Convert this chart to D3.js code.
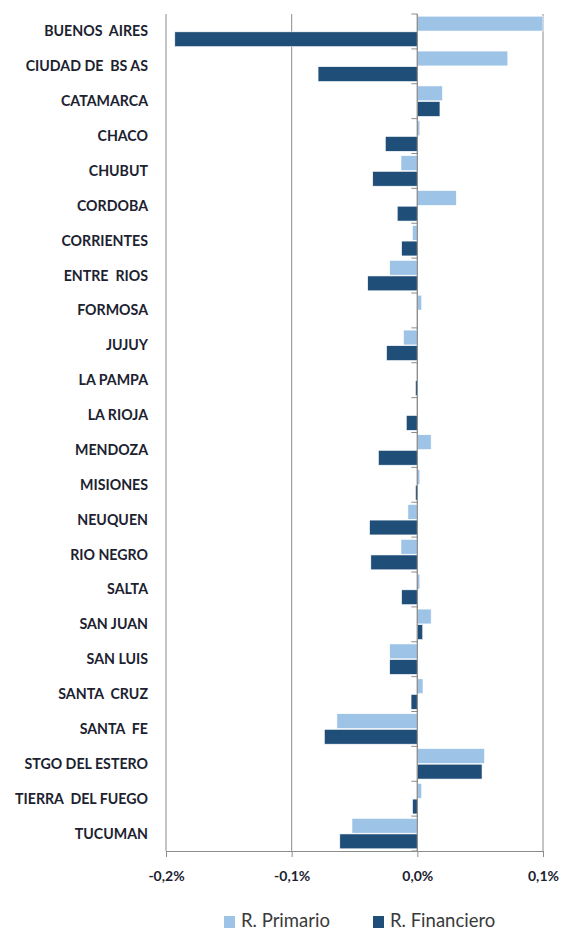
<!DOCTYPE html>
<html>
<head>
<meta charset="utf-8">
<script src="https://cdn.jsdelivr.net/npm/d3@7"></script>
<style>
  html, body { margin: 0; padding: 0; background: #fff; }
  svg { display: block; }
  text { font-family: Lato, "Open Sans", sans-serif; }
</style>
</head>
<body>
<svg id="chart" width="573" height="932"></svg>
<script>
const categories = ["BUENOS  AIRES","CIUDAD DE  BS AS","CATAMARCA","CHACO","CHUBUT","CORDOBA","CORRIENTES","ENTRE  RIOS","FORMOSA","JUJUY","LA PAMPA","LA RIOJA","MENDOZA","MISIONES","NEUQUEN","RIO NEGRO","SALTA","SAN JUAN","SAN LUIS","SANTA  CRUZ","SANTA  FE","STGO DEL ESTERO","TIERRA  DEL FUEGO","TUCUMAN"];
const primario   = [0.100, 0.072, 0.020, 0.002, -0.013, 0.031, -0.004, -0.022, 0.0035, -0.011, 0.000, 0.000, 0.011, 0.002, -0.0075, -0.013, 0.002, 0.011, -0.022, 0.0045, -0.064, 0.0535, 0.0035, -0.052];
const financiero = [-0.193, -0.079, 0.018, -0.0255, -0.0355, -0.016, -0.0125, -0.0395, 0.000, -0.0245, -0.0015, -0.0088, -0.031, -0.0015, -0.038, -0.037, -0.0125, 0.0043, -0.022, -0.005, -0.074, 0.0515, -0.0038, -0.0617];
const tickValues = [-0.2, -0.1, 0.0, 0.1];
const tickLabels = ["-0,2%", "-0,1%", "0,0%", "0,1%"];
const seriesNames = ["R. Primario", "R. Financiero"];
const colors = ["#9dc3e6", "#1f4e79"];

const svg = d3.select("#chart");
const x = d3.scaleLinear().domain([-0.2, 0.1]).range([166, 543]);
const y = d3.scaleBand().domain(categories).range([14, 851]).padding(0);
const inner = d3.scaleBand().domain([0, 1]).range([0, y.bandwidth()]).paddingInner(0.05).paddingOuter(0.14);

const grid = "#8c8c8c";
const textColor = "#1c2230";
// vertical gridlines
svg.append("g").selectAll("line").data(tickValues).join("line")
  .attr("x1", d => x(d)).attr("x2", d => x(d))
  .attr("y1", 14).attr("y2", 851)
  .attr("stroke", grid).attr("stroke-width", 1);

// bars
const data = [];
categories.forEach((c, i) => {
  data.push({c, s: 0, v: primario[i]});
  data.push({c, s: 1, v: financiero[i]});
});
svg.append("g").selectAll("rect").data(data).join("rect")
  .attr("x", d => Math.min(x(0), x(d.v)))
  .attr("width", d => Math.abs(x(d.v) - x(0)))
  .attr("y", d => y(d.c) + inner(d.s))
  .attr("height", inner.bandwidth())
  .attr("fill", d => colors[d.s])
  .attr("stroke", "#fff").attr("stroke-width", 0.6);

// zero axis line with category ticks
svg.append("line").attr("x1", x(0)).attr("x2", x(0)).attr("y1", 14).attr("y2", 851)
  .attr("stroke", grid).attr("stroke-width", 1.2);
const bounds = categories.map(c => y(c)).concat([851]);
svg.append("g").selectAll("line").data(bounds).join("line")
  .attr("x1", x(0) - 6).attr("x2", x(0))
  .attr("y1", d => d).attr("y2", d => d)
  .attr("stroke", grid).attr("stroke-width", 1);

// bottom axis
const xAxis = d3.axisBottom(x).tickValues(tickValues)
  .tickFormat((d, i) => tickLabels[i]).tickSize(6).tickSizeOuter(0).tickPadding(14);
const ax = svg.append("g").attr("transform", "translate(0,851)").call(xAxis);
ax.select(".domain").attr("stroke", grid).attr("stroke-width", 1.2);
ax.selectAll(".tick line").attr("stroke", grid);
ax.selectAll(".tick text")
  .attr("font-family", "Lato, sans-serif").attr("font-size", 14).attr("font-weight", 700)
  .attr("fill", textColor);

// category labels
svg.append("g").selectAll("text").data(categories).join("text")
  .attr("x", 148)
  .attr("y", d => y(d) + y.bandwidth() / 2)
  .attr("dy", "0.35em")
  .attr("text-anchor", "end")
  .attr("font-size", 14.2).attr("font-weight", 700)
  .attr("fill", textColor)
  .style("white-space", "pre")
  .text(d => d);

// legend
const legend = svg.append("g");
const lx = [224, 373];
seriesNames.forEach((n, i) => {
  legend.append("rect").attr("x", lx[i]).attr("y", 916).attr("width", 11).attr("height", 12).attr("fill", colors[i]);
  legend.append("text").attr("x", lx[i] + 17).attr("y", 927)
    .attr("font-size", 18.5).attr("fill", "#3a3a3a").text(n);
});
</script>
</body>
</html>
